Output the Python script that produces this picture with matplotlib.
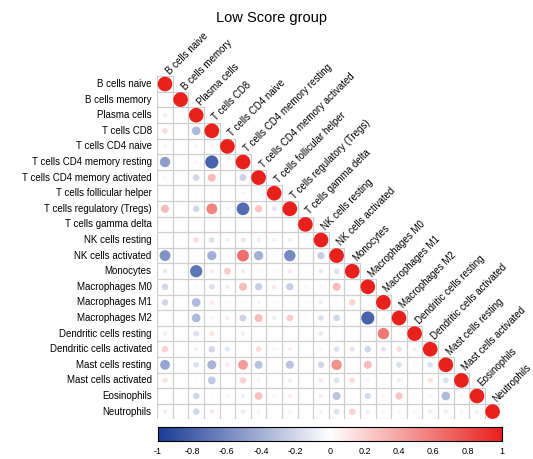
import matplotlib
matplotlib.use("Agg")
import matplotlib.pyplot as plt
import numpy as np
from matplotlib.colors import LinearSegmentedColormap
from matplotlib.patches import Circle

plt.rcParams['font.family'] = ['Liberation Sans', 'DejaVu Sans']

# cell types (rows / columns)
cells = ["B cells naive", "B cells memory", "Plasma cells", "T cells CD8",
         "T cells CD4 naive", "T cells CD4 memory resting",
         "T cells CD4 memory activated", "T cells follicular helper",
         "T cells regulatory (Tregs)", "T cells gamma delta", "NK cells resting",
         "NK cells activated", "Monocytes", "Macrophages M0", "Macrophages M1",
         "Macrophages M2", "Dendritic cells resting", "Dendritic cells activated",
         "Mast cells resting", "Mast cells activated", "Eosinophils", "Neutrophils"]

# lower triangle correlations, row i holds columns 0..i-1
lower = [
    [],
    [0.02],
    [-0.08, 0.02],
    [0.15, 0.02, -0.35],
    [-0.06, 0.02, -0.05, -0.05],
    [-0.5, 0.02, 0.06, -0.8, 0.03],
    [0.05, 0.02, -0.2, 0.3, 0.03, -0.22],
    [0.03, 0.02, 0.03, 0.03, 0.02, 0.06, 0.03],
    [0.3, 0.03, -0.2, 0.55, -0.06, -0.75, 0.25, -0.12],
    [0.02, 0.02, 0.03, 0.02, 0.02, 0.02, 0.02, 0.02, 0.03],
    [0.03, 0.02, 0.15, -0.15, -0.08, 0.12, 0.1, 0.08, -0.08, 0.02],
    [-0.55, 0.03, 0.03, -0.4, 0.03, 0.65, -0.4, 0.05, -0.6, 0.03, -0.25],
    [-0.1, 0.02, -0.7, 0.08, 0.22, -0.08, 0.03, 0.03, 0.1, 0.02, -0.1, -0.15],
    [-0.2, 0.02, 0.03, -0.15, -0.08, 0.3, -0.25, 0.1, -0.25, 0.05, 0.05, 0.3, 0.02],
    [-0.2, 0.02, -0.35, 0.1, 0.03, 0.03, -0.06, 0.03, 0.03, 0.03, -0.08, 0.03, 0.2, 0.03],
    [0.03, 0.02, -0.35, 0.06, 0.08, -0.22, 0.3, -0.08, 0.22, 0.03, -0.15, -0.2, 0.03,
     -0.8, 0.06],
    [-0.08, 0.02, -0.15, 0.12, 0.02, -0.08, 0.03, 0.02, 0.03, 0.02, -0.1, 0.02, 0.03,
     0.03, 0.6, 0.03],
    [0.2, 0.02, 0.08, -0.2, -0.12, 0.03, 0.15, 0.05, 0.08, 0.02, 0.05, -0.15, -0.12,
     -0.2, -0.12, 0.15, -0.08],
    [-0.45, 0.02, -0.15, -0.38, 0.1, 0.45, -0.3, 0.03, -0.3, 0.03, -0.2, 0.5, 0.03,
     0.3, 0.03, -0.15, 0.03, -0.15],
    [0.12, 0.02, 0.03, -0.28, 0.03, 0.2, 0.05, 0.03, -0.08, 0.02, 0.1, -0.15, 0.15,
     0.05, 0.03, -0.08, 0.02, 0.12, -0.15],
    [0.03, 0.02, -0.2, 0.03, -0.05, -0.08, 0.28, 0.05, 0.08, 0.02, 0.08, -0.3, 0.03,
     -0.18, 0.06, 0.25, 0.03, 0.05, -0.35, 0.05],
    [-0.08, 0.02, -0.2, 0.1, 0.03, -0.1, 0.05, 0.03, -0.06, 0.02, -0.06, -0.15, 0.2,
     -0.08, 0.06, 0.06, 0.05, -0.08, -0.08, 0.05, 0.08],
]

cbar_ticks = [-1, -0.8, -0.6, -0.4, -0.2, 0, 0.2, 0.4, 0.6, 0.8, 1]
cbar_labels = ["-1", "-0.8", "-0.6", "-0.4", "-0.2", "0", "0.2", "0.4", "0.6", "0.8", "1"]

n = len(cells)
corr = np.eye(n)
for i, row in enumerate(lower):
    for j, v in enumerate(row):
        corr[i, j] = v

cmap = LinearSegmentedColormap.from_list("bwr2", ["#1B3C96", "#FFFFFF", "#E8211D"])

W, H = 533, 459
fig = plt.figure(figsize=(W / 100, H / 100), dpi=100)

# main grid area in pixels
gl, gt, gs = 157.2, 76.2, 15.6
ax = fig.add_axes([gl / W, 1 - (gt + gs * n) / H, gs * n / W, gs * n / H])
ax.set_xlim(-0.5, n - 0.5)
ax.set_ylim(n - 0.5, -0.5)
ax.axis("off")

# cell borders for lower triangle
for i in range(n):
    for j in range(i + 1):
        ax.add_patch(plt.Rectangle((j - 0.5, i - 0.5), 1, 1, fill=False,
                                   edgecolor="#CFCFCF", linewidth=0.8, zorder=1))

# circles
for i in range(n):
    for j in range(i + 1):
        v = corr[i, j]
        r = 0.47 * np.sqrt(abs(v))
        ax.add_patch(Circle((j, i), r, facecolor=cmap((v + 1) / 2),
                            edgecolor="none", zorder=2))

# row labels
for i, name in enumerate(cells):
    ax.text(-0.85, i, name, ha="right", va="center", fontsize=7)

# column labels along diagonal
for j, name in enumerate(cells):
    ax.text(j + 0.3, j - 0.6, name, ha="left", va="baseline", fontsize=7,
            rotation=45, rotation_mode="anchor", clip_on=False)

fig.text(272 / W, 1 - 18 / H, "Low Score group", ha="center", va="center", fontsize=10.5)

# colorbar
cax = fig.add_axes([158 / W, 1 - 441 / H, (502 - 158) / W, 14 / H])
grad = np.linspace(-1, 1, 256).reshape(1, -1)
cax.imshow(grad, aspect="auto", cmap=cmap, extent=[-1, 1, 0, 1], vmin=-1, vmax=1)
cax.set_yticks([])
cax.set_xticks(cbar_ticks)
cax.set_xticklabels(cbar_labels, fontsize=6.5)
cax.tick_params(axis="x", length=0, pad=4)
for s in cax.spines.values():
    s.set_linewidth(0.8)

fig.savefig("out.png", dpi=100)
